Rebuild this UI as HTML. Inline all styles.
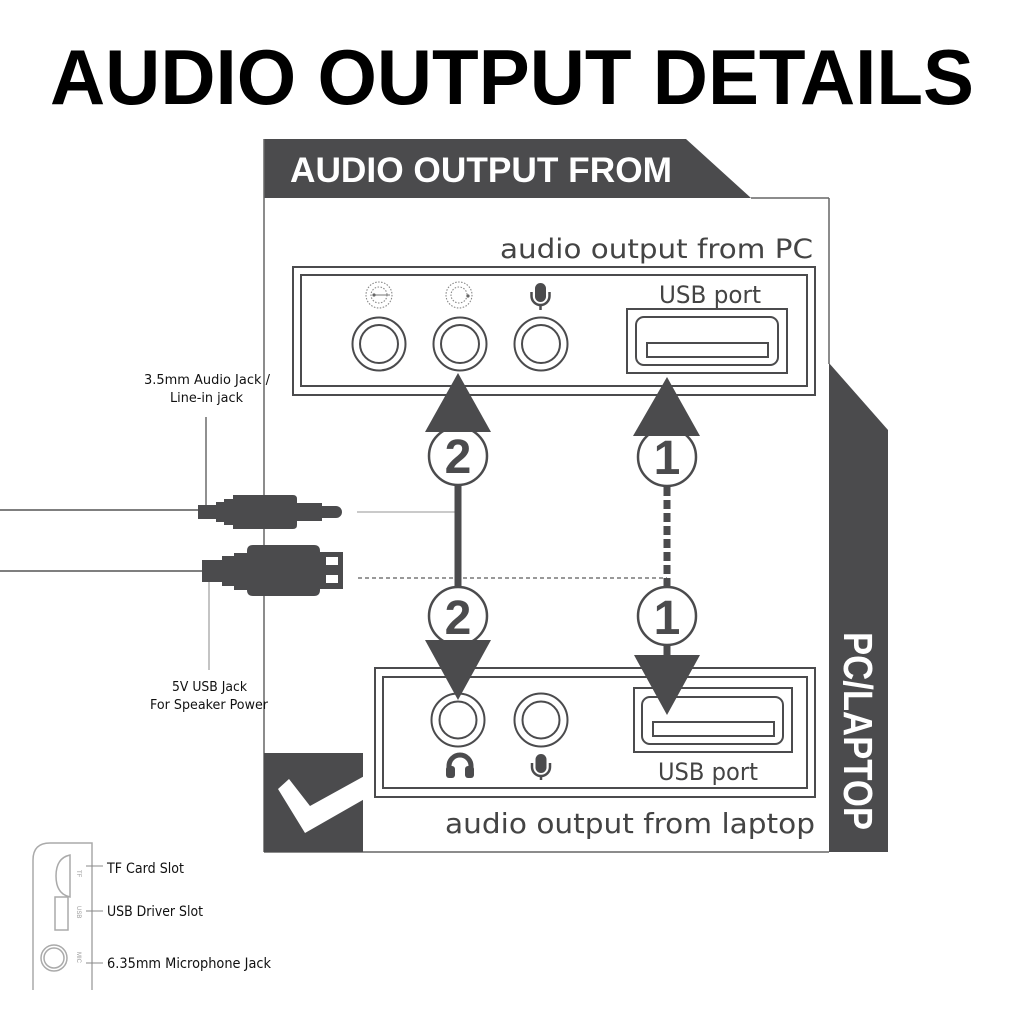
<!DOCTYPE html>
<html><head><meta charset="utf-8"><style>
html,body{margin:0;padding:0;background:#fff;}
svg{display:block;}
text{font-family:"Liberation Sans",Arial,sans-serif;}
.dj{font-family:"DejaVu Sans","Liberation Sans",sans-serif;}
</style></head><body>
<svg width="1024" height="1024" viewBox="0 0 1024 1024" xmlns="http://www.w3.org/2000/svg">
<rect width="1024" height="1024" fill="#fff"/>
<!-- Title -->
<text x="50" y="104" font-size="78" font-weight="bold" fill="#000" textLength="924" lengthAdjust="spacingAndGlyphs">AUDIO OUTPUT DETAILS</text>

<!-- Header band -->
<polygon points="264,139 686,139 751,198 264,198" fill="#4b4b4d"/>
<text x="290" y="182" font-size="35" font-weight="bold" fill="#fff" textLength="382" lengthAdjust="spacingAndGlyphs">AUDIO OUTPUT FROM</text>

<!-- Right band -->
<polygon points="829,363 888,430 888,852 829,852" fill="#4b4b4d"/>
<text transform="translate(844,632) rotate(90)" font-size="41" font-weight="bold" fill="#fff" textLength="198" lengthAdjust="spacingAndGlyphs">PC/LAPTOP</text>

<!-- Panel borders -->
<g stroke="#666" stroke-width="1.5" fill="none">
<line x1="264" y1="139" x2="264" y2="852"/>
<line x1="264" y1="852" x2="829" y2="852"/>
<line x1="751" y1="198" x2="829" y2="198"/>
<line x1="829" y1="198" x2="829" y2="364"/>
</g>

<!-- Check square -->
<rect x="264" y="753" width="99" height="99" fill="#4b4b4d"/>
<polygon points="278,789 289,779 310,806 368,774 368,797 305,833" fill="#fff"/>

<!-- Top text -->
<text class="dj" x="500" y="258" font-size="27" fill="#444" textLength="313" lengthAdjust="spacingAndGlyphs">audio output from PC</text>

<!-- Top box -->
<g stroke="#4b4b4d" stroke-width="2" fill="none">
<rect x="293" y="267" width="522" height="128"/>
<rect x="301" y="275" width="506" height="111"/>
<circle cx="379" cy="344" r="26.5"/><circle cx="379" cy="344" r="19"/>
<circle cx="460" cy="344" r="26.5"/><circle cx="460" cy="344" r="19"/>
<circle cx="541" cy="344" r="26.5"/><circle cx="541" cy="344" r="19"/>
<rect x="627" y="309" width="160" height="64"/>
<rect x="636" y="317" width="142" height="48" rx="8"/>
<rect x="647" y="343" width="121" height="14"/>
</g>
<text class="dj" x="659" y="303" font-size="24" fill="#444" textLength="102" lengthAdjust="spacingAndGlyphs">USB port</text>

<!-- top dotted icons -->
<g stroke="#888" stroke-width="1.1" fill="none" stroke-dasharray="1.5 1.5">
<circle cx="379" cy="295" r="8"/><circle cx="379" cy="295" r="13"/>
<circle cx="459" cy="295" r="8"/><circle cx="459" cy="295" r="13"/>
</g>
<line x1="374" y1="295" x2="390" y2="295" stroke="#777" stroke-width="1"/>
<circle cx="374" cy="295" r="1.6" fill="#666"/>
<circle cx="468" cy="296" r="1.6" fill="#666"/>
<!-- top mic -->
<rect x="535" y="283" width="11" height="19" rx="5.5" fill="#4b4b4d"/>
<path d="M531.5,292 V296 A9,9 0 0 0 549.5,296 V292" stroke="#4b4b4d" stroke-width="2.5" fill="none"/>
<line x1="540.5" y1="304" x2="540.5" y2="310" stroke="#4b4b4d" stroke-width="2.5"/>

<!-- Bottom box -->
<g stroke="#4b4b4d" stroke-width="2" fill="none">
<rect x="375" y="668" width="440" height="129"/>
<rect x="383" y="677" width="424" height="111"/>
<circle cx="458" cy="720" r="26.5"/><circle cx="458" cy="720" r="18.5"/>
<circle cx="541" cy="720" r="26.5"/><circle cx="541" cy="720" r="18.5"/>
<rect x="634" y="688" width="158" height="64"/>
<rect x="642" y="697" width="141" height="47" rx="8"/>
<rect x="653" y="722" width="121" height="14"/>
</g>
<text class="dj" x="658" y="780" font-size="24" fill="#444" textLength="100" lengthAdjust="spacingAndGlyphs">USB port</text>
<text class="dj" x="445" y="833" font-size="28" fill="#444" textLength="370" lengthAdjust="spacingAndGlyphs">audio output from laptop</text>
<!-- headphone icon -->
<path d="M449,772 V766 A11,11 0 0 1 471,766 V772" stroke="#4b4b4d" stroke-width="5" fill="none"/>
<rect x="446" y="766" width="9" height="12" rx="3" fill="#4b4b4d"/>
<rect x="465" y="766" width="9" height="12" rx="3" fill="#4b4b4d"/>
<!-- bottom mic -->
<rect x="535.5" y="754" width="11" height="19" rx="5.5" fill="#4b4b4d"/>
<path d="M532,763 V767 A9,9 0 0 0 550,767 V763" stroke="#4b4b4d" stroke-width="2.5" fill="none"/>
<line x1="541" y1="775" x2="541" y2="780" stroke="#4b4b4d" stroke-width="2.5"/>

<!-- connectors -->
<line x1="357" y1="512" x2="456" y2="512" stroke="#aaa" stroke-width="1.2"/>
<line x1="358" y1="578" x2="667" y2="578" stroke="#333" stroke-width="1" stroke-dasharray="4 3"/>
<line x1="458" y1="484" x2="458" y2="590" stroke="#4b4b4d" stroke-width="7"/>
<line x1="667" y1="487" x2="667" y2="588" stroke="#4b4b4d" stroke-width="7" stroke-dasharray="9 4"/>
<line x1="667" y1="645" x2="667" y2="656" stroke="#4b4b4d" stroke-width="7"/>

<g fill="#fff" stroke="#4b4b4d" stroke-width="2.5">
<circle cx="458" cy="456" r="29"/>
<circle cx="667" cy="457" r="29"/>
<circle cx="458" cy="616" r="29"/>
<circle cx="667" cy="616" r="29"/>
</g>
<g font-size="48" font-weight="bold" fill="#4b4b4d" text-anchor="middle">
<text x="458" y="473">2</text>
<text x="667" y="474">1</text>
<text x="458" y="634">2</text>
<text x="667" y="634">1</text>
</g>
<g fill="#4b4b4d">
<polygon points="458,373 425,432 491,432"/>
<polygon points="667,377 633,436 700,436"/>
<polygon points="425,640 491,640 458,700"/>
<polygon points="634,655 700,655 667,715"/>
</g>

<!-- left cables -->
<line x1="0" y1="510" x2="200" y2="510" stroke="#333" stroke-width="1.3"/>
<line x1="0" y1="571" x2="204" y2="571" stroke="#333" stroke-width="1.3"/>
<line x1="206" y1="417" x2="206" y2="507" stroke="#222" stroke-width="1"/>
<line x1="209" y1="582" x2="209" y2="670" stroke="#888" stroke-width="1"/>
<path d="M198,505 H216 V502 H224 V499 H233 V495 H293 Q297,495 297,499 V503 H322 V506 H336 A6,6 0 0 1 336,518 H322 V521 H297 V525 Q297,529 293,529 H233 V525 H224 V522 H216 V519 H198 Z" fill="#4b4b4d"/>
<path d="M202,560 H222 V556 H234 V553 H247 V551 Q247,545 253,545 H314 Q320,545 320,551 V552 H343 V589 H320 V590 Q320,596 314,596 H253 Q247,596 247,590 V590 H234 V586 H222 V582 H202 Z" fill="#4b4b4d"/>
<rect x="326" y="557" width="12" height="8" fill="#fff"/>
<rect x="326" y="575" width="12" height="8" fill="#fff"/>

<g class="dj" font-size="13" fill="#111">
<text class="dj" x="144" y="384" textLength="126" lengthAdjust="spacingAndGlyphs">3.5mm Audio Jack /</text>
<text class="dj" x="170" y="402" textLength="73" lengthAdjust="spacingAndGlyphs">Line-in jack</text>
<text class="dj" x="172" y="691" textLength="75" lengthAdjust="spacingAndGlyphs">5V USB Jack</text>
<text class="dj" x="150" y="709" textLength="118" lengthAdjust="spacingAndGlyphs">For Speaker Power</text>
</g>

<!-- device side -->
<g stroke="#aaa" stroke-width="1.5" fill="none">
<path d="M33,990 V860 Q33,843 50,843 H92 V990"/>
<path d="M70,855 Q56,858 56,876 Q56,894 70,897 Z"/>
<rect x="55" y="897" width="13" height="33"/>
<circle cx="54" cy="958" r="13"/>
<circle cx="54" cy="958" r="10"/>
</g>
<g font-size="6" fill="#999">
<text transform="translate(77,870) rotate(90)">TF</text>
<text transform="translate(77,906) rotate(90)">USB</text>
<text transform="translate(77,952) rotate(90)">MIC</text>
</g>
<g stroke="#888" stroke-width="1">
<line x1="86" y1="866" x2="103" y2="866"/>
<line x1="86" y1="911" x2="103" y2="911"/>
<line x1="86" y1="963" x2="103" y2="963"/>
</g>
<g font-size="14" fill="#111">
<text class="dj" x="107" y="873" textLength="77" lengthAdjust="spacingAndGlyphs">TF Card Slot</text>
<text class="dj" x="107" y="916" textLength="96" lengthAdjust="spacingAndGlyphs">USB Driver Slot</text>
<text class="dj" x="107" y="968" textLength="164" lengthAdjust="spacingAndGlyphs">6.35mm Microphone Jack</text>
</g>
</svg>
</body></html>
